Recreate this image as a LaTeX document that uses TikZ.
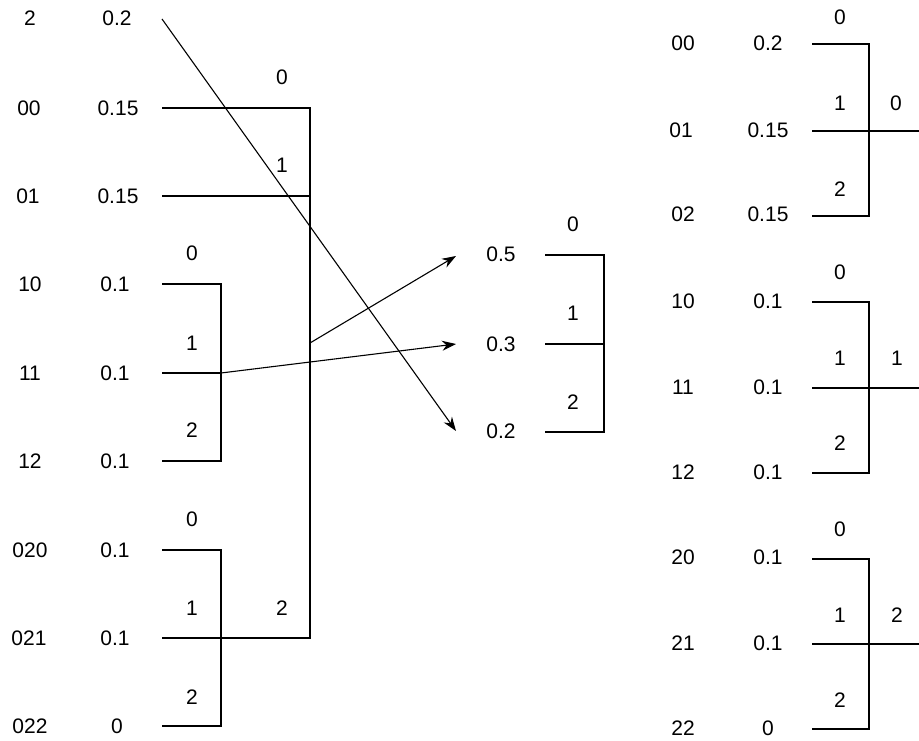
\documentclass[tikz,border=0pt]{standalone}
\usepackage{fontspec}
\setmainfont{Liberation Sans}
\usetikzlibrary{arrows.meta,positioning}

\begin{document}
\begin{tikzpicture}[
    x=1pt, y=-1pt,
    num/.style={inner sep=0pt, font=\fontsize{21}{23}\selectfont},
    wire/.style={line width=1.1pt},
    arrow/.style={wire, -{Stealth[length=14pt,width=10pt]}}
]
\useasboundingbox (0,0) rectangle (919,741);

% Left column: codes
\node[num] (cL2) at (30,18) {2};
\node[num] (cL00) at (29,108) {00};
\node[num] (cL01) at (28,196) {01};
\node[num] (cL10) at (30,284) {10};
\node[num] (cL11) at (30,373) {11};
\node[num] (cL12) at (30,461) {12};
\node[num] (cL020) at (30,550) {020};
\node[num] (cL021) at (29,638) {021};
\node[num] (cL022) at (30,726) {022};

% Left column: probabilities
\node[num] (pL2) at (117,18) {0.2};
\node[num] (pL00) at (118,108) {0.15};
\node[num] (pL01) at (118,196) {0.15};
\node[num] (pL10) at (115,284) {0.1};
\node[num] (pL11) at (115,373) {0.1};
\node[num] (pL12) at (115,461) {0.1};
\node[num] (pL020) at (115,550) {0.1};
\node[num] (pL021) at (115,638) {0.1};
\node[num] (pL022) at (117,726) {0};

% Left column: line ends and joints
\coordinate (sL2) at (162,19);
\coordinate (sL00) at (162,108);
\coordinate (sL01) at (162,196);
\coordinate (sL10) at (162,284);
\coordinate (sL11) at (162,373);
\coordinate (sL12) at (162,461);
\coordinate (sL020) at (162,550);
\coordinate (sL021) at (162,638);
\coordinate (sL022) at (162,726);
\coordinate (jL0) at (310,343);
\coordinate (jL1) at (221,373);
\coordinate (jL02) at (221,638);

% Left column: branch digits
\node[num] (bL0a) at (282,77) {0};
\node[num] (bL0b) at (282,165) {1};
\node[num] (bL0c) at (282,608) {2};
\node[num] (bL1a) at (192,253) {0};
\node[num] (bL1b) at (192,343) {1};
\node[num] (bL1c) at (192,430) {2};
\node[num] (bL02a) at (192,519) {0};
\node[num] (bL02b) at (192,608) {1};
\node[num] (bL02c) at (192,697) {2};

% Left trees
\draw[wire] (sL00) -| (jL0) |- (sL021);
\draw[wire] (sL01) -- (sL01 -| jL0);
\draw[wire] (sL10) -| (jL1) |- (sL12);
\draw[wire] (sL11) -- (jL1);
\draw[wire] (sL020) -| (jL02) |- (sL022);

% Middle: merged probabilities
\node[num] (pM5) at (501,254) {0.5};
\node[num] (pM3) at (501,344) {0.3};
\node[num] (pM2) at (501,431) {0.2};
\coordinate (sM5) at (545,255);
\coordinate (sM3) at (545,344);
\coordinate (sM2) at (545,432);
\coordinate (jM) at (604,344);
\node[num] (bMa) at (573,224) {0};
\node[num] (bMb) at (573,313) {1};
\node[num] (bMc) at (573,402) {2};
\draw[wire] (sM5) -| (jM) |- (sM2);
\draw[wire] (sM3) -- (jM);

% Arrows
\coordinate (aM5) at (456,256);
\coordinate (aM3) at (456,344);
\coordinate (aM2) at (456,431);
\draw[arrow] (jL0) -- (aM5);
\draw[arrow] (jL1) -- (aM3);
\draw[arrow] (sL2) -- (aM2);

% Right column: group 0
\node[num] (cR00) at (683,43) {00};
\node[num] (cR01) at (681,130) {01};
\node[num] (cR02) at (683,214) {02};
\node[num] (pR00) at (768,43) {0.2};
\node[num] (pR01) at (768,130) {0.15};
\node[num] (pR02) at (768,214) {0.15};
\coordinate (sR00) at (812,44);
\coordinate (sR01) at (812,131);
\coordinate (sR02) at (812,216);
\coordinate (jR0) at (869,131);
\coordinate (eR0) at (919,131);
\node[num] (bR0a) at (840,17) {0};
\node[num] (bR0b) at (840,103) {1};
\node[num] (bR0c) at (840,189) {2};
\node[num] (bR0) at (896,103) {0};
\draw[wire] (sR00) -| (jR0) |- (sR02);
\draw[wire] (sR01) -- (eR0);

% Right column: group 1
\node[num] (cR10) at (683,301) {10};
\node[num] (cR11) at (683,387) {11};
\node[num] (cR12) at (683,472) {12};
\node[num] (pR10) at (768,301) {0.1};
\node[num] (pR11) at (768,387) {0.1};
\node[num] (pR12) at (768,472) {0.1};
\coordinate (sR10) at (812,302);
\coordinate (sR11) at (812,388);
\coordinate (sR12) at (812,473);
\coordinate (jR1) at (869,388);
\coordinate (eR1) at (919,388);
\node[num] (bR1a) at (840,272) {0};
\node[num] (bR1b) at (840,358) {1};
\node[num] (bR1c) at (840,443) {2};
\node[num] (bR1) at (897,358) {1};
\draw[wire] (sR10) -| (jR1) |- (sR12);
\draw[wire] (sR11) -- (eR1);

% Right column: group 2
\node[num] (cR20) at (683,557) {20};
\node[num] (cR21) at (683,643) {21};
\node[num] (cR22) at (683,728) {22};
\node[num] (pR20) at (768,557) {0.1};
\node[num] (pR21) at (768,643) {0.1};
\node[num] (pR22) at (768,728) {0};
\coordinate (sR20) at (812,559);
\coordinate (sR21) at (812,644);
\coordinate (sR22) at (812,729);
\coordinate (jR2) at (869,644);
\coordinate (eR2) at (919,644);
\node[num] (bR2a) at (840,529) {0};
\node[num] (bR2b) at (840,615) {1};
\node[num] (bR2c) at (840,700) {2};
\node[num] (bR2) at (897,615) {2};
\draw[wire] (sR20) -| (jR2) |- (sR22);
\draw[wire] (sR21) -- (eR2);

\end{tikzpicture}
\end{document}
